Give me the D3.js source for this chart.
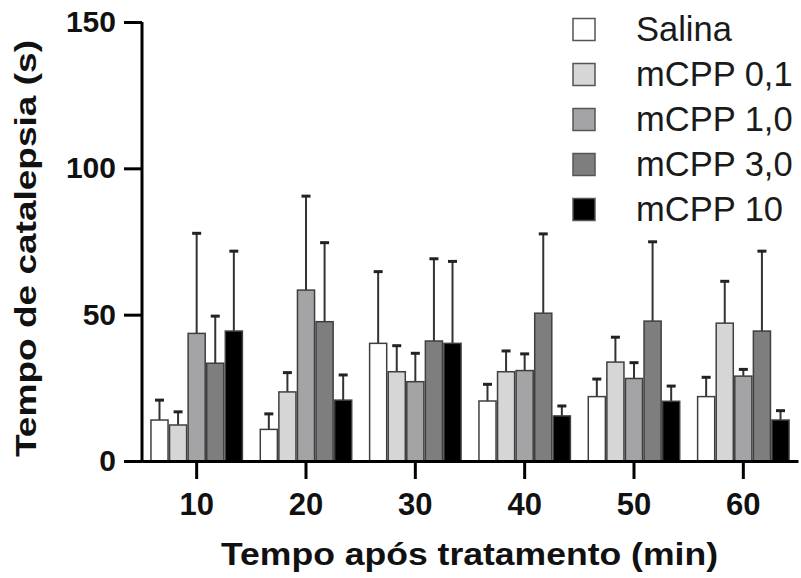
<!DOCTYPE html>
<html>
<head>
<meta charset="utf-8">
<script src="https://cdn.jsdelivr.net/npm/d3@7"></script>
<style>
    body { margin: 0; background: #fff; }
    svg { display: block; font-family: Arial, "Liberation Sans", sans-serif; }
</style>
</head>
<body>
<div id="chart"></div>
<script>
// time after treatment (min)
const timePoints = ['10', '20', '30', '40', '50', '60'];
const groups = ['Salina', 'mCPP 0,1', 'mCPP 1,0', 'mCPP 3,0', 'mCPP 10'];
const groupColors = ['#ffffff', '#d6d6d6', '#a4a4a7', '#7e7e7e', '#000000'];

// mean catalepsy time (s) per group, one value per time point
const salina = [14.0, 10.8, 40.2, 20.5, 22.0, 22.0];
const mcpp01 = [12.3, 23.6, 30.5, 30.5, 33.8, 47.1];
const mcpp10 = [43.6, 58.4, 27.1, 30.9, 28.2, 29.0];
const mcpp30 = [33.4, 47.6, 41.0, 50.5, 47.8, 44.4];
const mcpp100 = [44.4, 20.8, 40.2, 15.4, 20.4, 14.0];

// error (upper whisker length, s)
const salinaErr = [6.8, 5.3, 24.5, 5.7, 6.0, 6.6];
const mcpp01Err = [4.5, 6.6, 8.9, 7.1, 8.5, 14.3];
const mcpp10Err = [34.2, 32.1, 9.7, 5.7, 5.4, 2.3];
const mcpp30Err = [16.1, 27.0, 28.1, 27.1, 27.1, 27.3];
const mcpp100Err = [27.3, 8.6, 28.0, 3.4, 5.2, 3.2];

const yTicks = [0, 50, 100, 150];

const means = [salina, mcpp01, mcpp10, mcpp30, mcpp100];
const errors = [salinaErr, mcpp01Err, mcpp10Err, mcpp30Err, mcpp100Err];

const width = 801;
const height = 578;
const margin = {top: 22, right: 3, bottom: 117, left: 142};

const svg = d3.select('#chart')
    .append('svg')
    .attr('width', width)
    .attr('height', height);

const x0 = d3.scaleBand()
    .domain(timePoints)
    .range([margin.left, width - margin.right])
    .paddingInner(0.15)
    .paddingOuter(0.075);

const x1 = d3.scaleBand()
    .domain(groups)
    .range([0, x0.bandwidth()]);

const y = d3.scaleLinear()
    .domain([0, 150])
    .range([height - margin.bottom, margin.top]);

// flatten into one record per bar
const rows = [];
timePoints.forEach((t, i) => {
    groups.forEach((g, j) => {
        rows.push({time: t, group: g, color: groupColors[j], mean: means[j][i], err: errors[j][i]});
    });
});

const bars = svg.append('g')
    .selectAll('g')
    .data(rows)
    .enter()
    .append('g')
    .attr('transform', (d) => 'translate(' + (x0(d.time) + x1(d.group)) + ',0)');

bars.append('line')
    .attr('x1', x1.bandwidth() / 2)
    .attr('x2', x1.bandwidth() / 2)
    .attr('y1', (d) => y(d.mean))
    .attr('y2', (d) => y(d.mean + d.err))
    .attr('stroke', '#333')
    .attr('stroke-width', 2);

bars.append('line')
    .attr('x1', x1.bandwidth() / 2 - 4.5)
    .attr('x2', x1.bandwidth() / 2 + 4.5)
    .attr('y1', (d) => y(d.mean + d.err))
    .attr('y2', (d) => y(d.mean + d.err))
    .attr('stroke', '#222')
    .attr('stroke-width', 3);

bars.append('rect')
    .attr('x', 0.75)
    .attr('y', (d) => y(d.mean))
    .attr('width', x1.bandwidth() - 1.5)
    .attr('height', (d) => y(0) - y(d.mean))
    .attr('fill', (d) => d.color)
    .attr('stroke', '#3f3f3f')
    .attr('stroke-width', 1.5);

const xAxis = svg.append('g')
    .attr('transform', 'translate(0,' + y(0) + ')')
    .call(d3.axisBottom(x0).tickSize(18).tickSizeOuter(0).tickPadding(14));

const yAxis = svg.append('g')
    .attr('transform', 'translate(' + margin.left + ',0)')
    .call(d3.axisLeft(y).tickValues(yTicks).tickSize(18).tickSizeOuter(0).tickPadding(8));

[xAxis, yAxis].forEach((ax) => {
    ax.select('.domain').attr('stroke', '#000').attr('stroke-width', 3);
    ax.selectAll('.tick line').attr('stroke', '#000').attr('stroke-width', 3);
    ax.selectAll('.tick text')
        .attr('fill', '#111')
        .style('font-family', 'Arial, "Liberation Sans", sans-serif')
        .style('font-weight', 'bold');
});
xAxis.selectAll('.tick text').style('font-size', '31px');
yAxis.selectAll('.tick text').style('font-size', '30px');
// extend the y axis line down to meet the x axis line
yAxis.select('.domain').attr('d', 'M0,' + (y(0) + 1.5) + 'V' + y(150));

svg.append('text')
    .attr('x', 469.5)
    .attr('y', 565)
    .attr('text-anchor', 'middle')
    .attr('font-size', 31)
    .attr('font-weight', 'bold')
    .attr('fill', '#111')
    .attr('textLength', 497)
    .attr('lengthAdjust', 'spacingAndGlyphs')
    .text('Tempo após tratamento (min)');

svg.append('text')
    .attr('transform', 'translate(36,248.5) rotate(-90)')
    .attr('text-anchor', 'middle')
    .attr('font-size', 30)
    .attr('font-weight', 'bold')
    .attr('fill', '#111')
    .attr('textLength', 417)
    .attr('lengthAdjust', 'spacingAndGlyphs')
    .text('Tempo de catalepsia (s)');

const legend = svg.append('g')
    .selectAll('g')
    .data(groups)
    .enter()
    .append('g')
    .attr('transform', (d, i) => 'translate(573,' + (29.5 + i * 45) + ')');

legend.append('rect')
    .attr('x', 0)
    .attr('y', -11)
    .attr('width', 22)
    .attr('height', 22)
    .attr('fill', (d, i) => groupColors[i])
    .attr('stroke', '#555')
    .attr('stroke-width', 1.5);

legend.append('text')
    .attr('x', 63)
    .attr('y', 11)
    .attr('font-size', 34.5)
    .attr('fill', '#1a1a1a')
    .text((d) => d);
</script>
</body>
</html>
